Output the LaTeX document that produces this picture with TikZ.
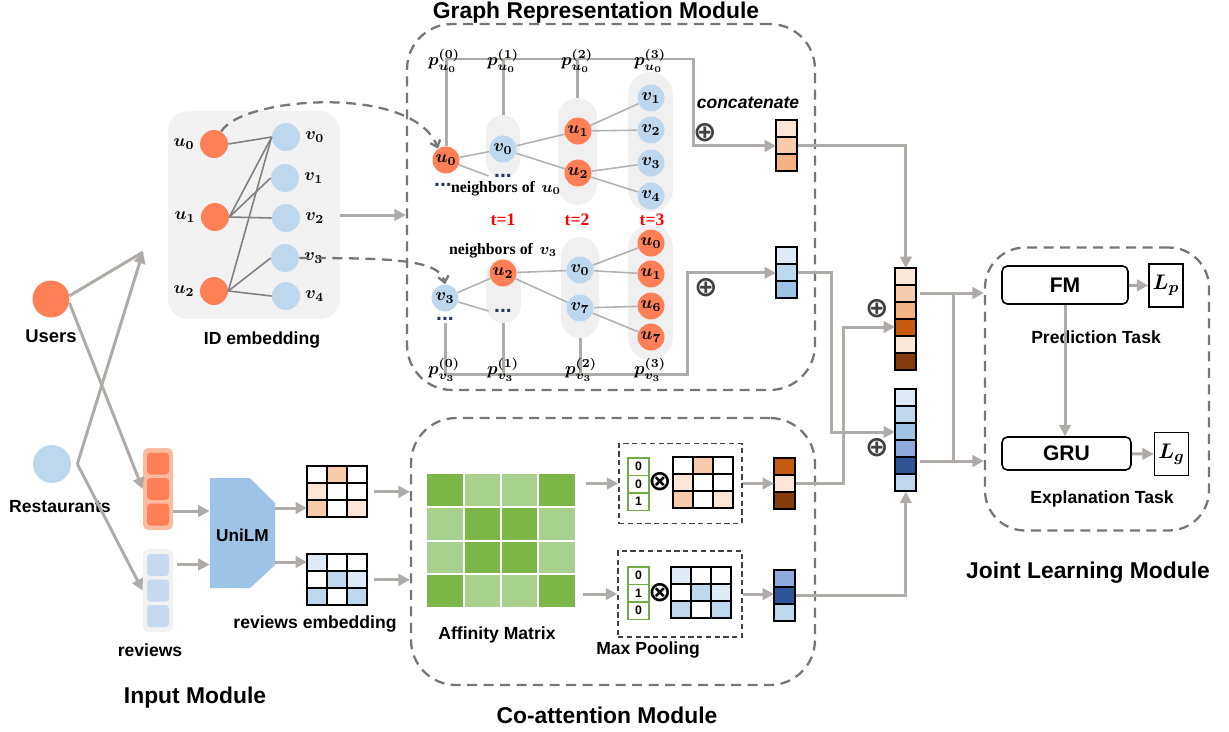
\documentclass[tikz,border=0pt]{standalone}
\usepackage{fontspec}
\usepackage{amsmath}
\setmainfont{Liberation Sans}
\newfontfamily\timesfont{Liberation Serif}
\newfontfamily\symfont{DejaVu Sans}
\usetikzlibrary{arrows.meta,positioning}

% colours
\definecolor{coral}{RGB}{255,128,86}
\definecolor{lblue}{RGB}{189,215,238}
\definecolor{pillgray}{RGB}{240,240,240}
\definecolor{idgray}{RGB}{242,242,242}
\definecolor{arrgray}{RGB}{175,171,171}
\definecolor{edgegray}{RGB}{178,178,178}
\definecolor{iedgegray}{RGB}{128,128,128}
\definecolor{dashgray}{RGB}{118,118,118}
\definecolor{navy}{RGB}{31,56,100}
\definecolor{oplgray}{RGB}{64,64,64}
\definecolor{orevbg}{RGB}{251,188,162}
\definecolor{brevin}{RGB}{197,218,240}
\definecolor{unilmblue}{RGB}{157,195,230}
\definecolor{oA}{RGB}{251,229,214}
\definecolor{oB}{RGB}{248,203,173}
\definecolor{oC}{RGB}{244,177,131}
\definecolor{oD}{RGB}{197,90,17}
\definecolor{oE}{RGB}{132,60,12}
\definecolor{bA}{RGB}{222,235,247}
\definecolor{bB}{RGB}{189,215,238}
\definecolor{bC}{RGB}{157,195,230}
\definecolor{bD}{RGB}{143,170,220}
\definecolor{bE}{RGB}{47,85,151}
\definecolor{gD}{RGB}{122,182,72}
\definecolor{gL}{RGB}{169,209,142}
\definecolor{poolgreen}{RGB}{112,173,71}

\tikzset{
  lab/.style={font=\fontsize{10}{12}\selectfont\bfseries, inner sep=1pt},
  title/.style={font=\fontsize{13}{15}\selectfont\bfseries, inner sep=1pt},
  unode/.style={circle, fill=coral, minimum size=0.54cm, inner sep=0pt, font=\boldmath},
  vnode/.style={unode, fill=lblue},
  inode/.style={circle, fill=#1, minimum size=0.56cm, inner sep=0pt},
  mlab/.style={font=\boldmath, inner sep=1pt},
  pillbox/.style={fill=pillgray, rounded corners=#1, inner sep=0pt},
  navdots/.style={font=\fontsize{12}{12}\selectfont\bfseries, text=navy, inner sep=1pt},
  gedge/.style={draw=edgegray, line width=0.9pt},
  iedge/.style={draw=iedgegray, line width=0.9pt},
  stem/.style={draw=arrgray, line width=1.7pt},
  conn/.style={stem, -{Triangle[length=6.5pt,width=6.5pt]}},
  modbox/.style={draw=dashgray, line width=1.3pt, dash pattern=on 0.2cm off 0.13cm, rounded corners=0.9cm, inner sep=0pt},
  curvarr/.style={draw=dashgray, line width=1.3pt, dash pattern=on 0.2cm off 0.13cm, -{Straight Barb[length=3.5pt,width=6pt]}},
  mpbox/.style={draw=oplgray, line width=0.9pt, dash pattern=on 3pt off 2pt, inner sep=0pt},
  poolcell/.style={draw=poolgreen, fill=white, line width=1.1pt, minimum width=0.42cm, minimum height=0.35cm, inner sep=0pt, outer sep=0pt, font=\fontsize{7}{8}\selectfont\bfseries},
  opl/.style={font=\symfont\bfseries\fontsize{16}{16}\selectfont, text=oplgray, inner sep=0pt},
  plab/.style={font=\boldmath, inner sep=0pt},
  nblab/.style={font=\timesfont\fontsize{9}{11}\selectfont\bfseries\boldmath, inner sep=1pt},
  tlab/.style={font=\timesfont\fontsize{10}{12}\selectfont\bfseries, text=red, inner sep=1pt},
  taskbox/.style={draw=black, line width=0.9pt, rounded corners=3pt, inner sep=0pt, font=\fontsize{12}{14}\selectfont\bfseries},
  lossbox/.style={draw=black, line width=0.8pt, inner sep=0pt, minimum width=0.68cm, minimum height=0.86cm, font=\boldmath\fontsize{13}{15}\selectfont},
}

% a column of coloured cells: name, top-left corner, number of cells, colours
\newcommand{\cellcol}[4]{%
  \node[inner sep=0pt, minimum width=0.42cm, minimum height=#3*0.34cm, anchor=north west] (#1) at (#2) {};
  \foreach \col [count=\ii from 0] in {#4}
    \filldraw[fill=\col, draw=black, line width=1.1pt] ([yshift=-\ii*0.34cm]#1.north west) rectangle ++(0.42cm,-0.34cm);
}
% a 3x3 grid of coloured cells: name, top-left corner, rows of colours
\newcommand{\cellgrid}[3]{%
  \node[inner sep=0pt, minimum width=1.2cm, minimum height=1.02cm, anchor=north west] (#1) at (#2) {};
  \foreach \rw [count=\ri from 0] in {#3}
    \foreach \col [count=\ki from 0] in \rw
      \filldraw[fill=\col, draw=black, line width=1.1pt] ([xshift=\ki*0.4cm, yshift=-\ri*0.34cm]#1.north west) rectangle ++(0.4cm,-0.34cm);
}

\begin{document}
\begin{tikzpicture}[x=0.02cm, y=-0.02cm]
\useasboundingbox (0,0) rectangle (1229,731);

% Module frames and titles
\node[modbox, minimum width=8.16cm, minimum height=7.32cm] (grm) at (611,207) {};
\node[modbox, minimum width=8.08cm, minimum height=5.34cm] (coat) at (613,551.5) {};
\node[modbox, rounded corners=0.8cm, minimum width=4.48cm, minimum height=5.66cm] (joint) at (1097,389) {};
\node[title] (grmt) at (596,13) {Graph Representation Module};
\node[title] (coatt) at (607,715) {Co-attention Module};
\node[title] (jointt) at (1088,573) {Joint Learning Module};
\node[title] (inpt) at (195,698) {Input Module};

% Users and restaurants
\node[circle, fill=coral, minimum size=0.74cm] (users) at (51,299) {};
\node[lab, font=\fontsize{10.5}{12}\selectfont\bfseries] (userst) at (51,336) {Users};
\node[circle, fill=lblue, minimum size=0.76cm] (rest) at (52,464) {};
\node[lab] (restt) at (60,507) {Restaurants};

% Reviews
\node[fill=orevbg, rounded corners=3pt, minimum width=0.6cm, minimum height=1.64cm] (orev) at (158,489) {};
\foreach \d in {0.51,0,-0.51}
  \fill[coral, rounded corners=2pt] ([yshift=\d cm]orev.center) ++(-0.22cm,-0.22cm) rectangle ++(0.44cm,0.44cm);
\node[fill=idgray, rounded corners=3pt, minimum width=0.6cm, minimum height=1.66cm] (brev) at (158,590.5) {};
\foreach \d in {0.51,0,-0.51}
  \fill[brevin, rounded corners=2pt] ([yshift=\d cm]brev.center) ++(-0.22cm,-0.22cm) rectangle ++(0.44cm,0.44cm);
\node[lab] (revt) at (150,650) {reviews};

\coordinate (idin) at (143,252);
\draw[stem] (users.10) -- (idin);
\draw[conn] ([xshift=0.12cm]rest.east) -- (idin);
\draw[conn] (users.-12) -- (orev.west);
\draw[conn] ([xshift=0.12cm]rest.east) -- (brev.west);

% UniLM
\fill[unilmblue] (210,478) -- (250,478) -- (275,503) -- (275,565) -- (250,588) -- (210,588) -- cycle;
\node[lab, font=\fontsize{9.8}{12}\selectfont\bfseries, minimum width=1.3cm, minimum height=2.2cm] (unilm) at (242.5,535) {UniLM};
\draw[conn] ([yshift=-0.44cm]orev.east) -- ([yshift=-0.44cm]orev.east -| unilm.west);
\draw[conn] ([yshift=0.52cm, xshift=0.08cm]brev.east) -- ([yshift=0.52cm]brev.east -| unilm.west);

% Reviews embedding
\cellgrid{omat}{307,466}{{white,oB,white},{oA,white,white},{oB,white,oA}}
\cellgrid{bmat}{307,554}{{bA,white,white},{white,bB,bA},{bB,white,bB}}
\node[lab] (rembt) at (315,624) {reviews embedding};
\draw[conn] ([yshift=0.54cm]unilm.east) -- ([yshift=0.54cm]unilm.east -| omat.west);
\draw[conn] ([yshift=-0.54cm]unilm.east) -- ([yshift=-0.54cm]unilm.east -| bmat.west);
\draw[conn] ([xshift=0.12cm]omat.east) -- (omat.east -| coat.west);
\draw[conn] ([xshift=0.12cm]bmat.east) -- (bmat.east -| coat.west);

% ID embedding
\node[fill=idgray, rounded corners=0.4cm, minimum width=3.44cm, minimum height=4.16cm] (idbox) at (254,215) {};
\node[lab] (idt) at (262,340) {ID embedding};
\node[inode=coral] (iu0) at (214,144) {};
\node[inode=coral] (iu1) at (215,217) {};
\node[inode=coral] (iu2) at (214,291) {};
\node[inode=lblue] (iv0) at (286,137) {};
\node[inode=lblue] (iv1) at (285,178) {};
\node[inode=lblue] (iv2) at (286,218) {};
\node[inode=lblue] (iv3) at (285,258) {};
\node[inode=lblue] (iv4) at (286,296) {};
\node[mlab, left=0.06cm of iu0] (iu0l) {$u_0$};
\node[mlab, left=0.06cm of iu1] (iu1l) {$u_1$};
\node[mlab, left=0.06cm of iu2] (iu2l) {$u_2$};
\node[mlab, right=0.06cm of iv0] (iv0l) {$v_0$};
\node[mlab, right=0.06cm of iv1] (iv1l) {$v_1$};
\node[mlab, right=0.06cm of iv2] (iv2l) {$v_2$};
\node[mlab, right=0.06cm of iv3] (iv3l) {$v_3$};
\node[mlab, right=0.06cm of iv4] (iv4l) {$v_4$};
\draw[iedge] (iu0.east) -- (iv0.west);
\draw[iedge] (iu1.east) -- (iv0.west);
\draw[iedge] (iu1.east) -- (iv1.west);
\draw[iedge] (iu1.east) -- (iv2.west);
\draw[iedge] (iu2.east) -- (iv0.west);
\draw[iedge] (iu2.east) -- (iv3.west);
\draw[iedge] (iu2.east) -- (iv4.west);
\draw[conn] (idbox.east) -- (idbox.east -| grm.west);

% Graph: neighbours of u0
\node[pillbox=0.34cm, minimum width=0.68cm, minimum height=1.26cm] (pu1) at (503,146.5) {};
\node[pillbox=0.39cm, minimum width=0.78cm, minimum height=2.14cm] (pu2) at (577.5,151.5) {};
\node[pillbox=0.45cm, minimum width=0.9cm, minimum height=2.8cm] (pu3) at (650.5,142) {};
\node[unode] (gu0) at (446,160) {$u_0$};
\node[vnode] (gv0) at (503,149) {$v_0$};
\node[navdots] (dotsa) at (503,176) {...};
\node[navdots] (dotsb) at (443,185) {...};
\node[unode] (gu1) at (578,131) {$u_1$};
\node[unode] (gu2) at (578,173) {$u_2$};
\node[vnode] (gv1) at (651,98) {$v_1$};
\node[vnode] (gv2) at (651,130) {$v_2$};
\node[vnode] (gv3) at (651,163) {$v_3$};
\node[vnode] (gv4) at (651,196) {$v_4$};
\node[nblab] (nbu) at (506,189) {neighbors of \,$u_0$};
\draw[gedge] (gu0) -- (gv0);
\draw[gedge] (gu0) -- ([xshift=-2pt]dotsa.west);
\draw[gedge] (gv0) -- (gu1);
\draw[gedge] (gv0) -- (gu2);
\draw[gedge] (gu1) -- (gv1);
\draw[gedge] (gu1) -- (gv2);
\draw[gedge] (gu2) -- (gv3);
\draw[gedge] (gu2) -- (gv4);

% Layer outputs of u0
\coordinate (ptop) at (693,59);
\cellcol{sva}{776,120}{3}{oA,oB,oC}
\draw[conn] (gu0.north) |- (ptop) |- (sva.west);
\draw[stem] (pu1.north) -- (pu1.north |- ptop);
\draw[stem] (pu2.north) -- (pu2.north |- ptop);
\node[plab] (pu0a) at (444,61) {$p_{u_0}^{(0)}$};
\node[plab] (pu0b) at (503,61) {$p_{u_0}^{(1)}$};
\node[plab] (pu0c) at (577,61) {$p_{u_0}^{(2)}$};
\node[plab] (pu0d) at (650,61) {$p_{u_0}^{(3)}$};
\node[opl] (opla) at (705,133) {⊕};
\node[lab, font=\fontsize{10}{12}\selectfont\bfseries\itshape] (cct) at (748,103) {concatenate};

% Hops
\node[tlab] (t1) at (503,220) {t=1};
\node[tlab] (t2) at (577,220) {t=2};
\node[tlab] (t3) at (652,220) {t=3};

% Graph: neighbours of v3
\node[pillbox=0.35cm, minimum width=0.7cm, minimum height=1.3cm] (pv1) at (503.5,290.5) {};
\node[pillbox=0.38cm, minimum width=0.76cm, minimum height=2.02cm] (pv2) at (580,287.5) {};
\node[pillbox=0.45cm, minimum width=0.9cm, minimum height=2.7cm] (pv3) at (650.5,292.5) {};
\node[vnode] (hv3) at (445,298) {$v_3$};
\node[navdots] (dotsc) at (445,319) {...};
\node[unode] (hu2) at (503,273) {$u_2$};
\node[navdots] (dotsd) at (503,311) {...};
\node[vnode] (hv0) at (580,270) {$v_0$};
\node[vnode] (hv7) at (580,308) {$v_7$};
\node[unode] (hu0) at (651,243) {$u_0$};
\node[unode] (hu1) at (651,274) {$u_1$};
\node[unode] (hu6) at (651,306) {$u_6$};
\node[unode] (hu7) at (651,337) {$u_7$};
\node[nblab] (nbv) at (503,251) {neighbors of \,$v_3$};
\draw[gedge] (hv3) -- (hu2);
\draw[gedge] (hv3) -- ([xshift=-2pt]dotsd.west);
\draw[gedge] (hu2) -- (hv0);
\draw[gedge] (hu2) -- (hv7);
\draw[gedge] (hv0) -- (hu0);
\draw[gedge] (hv0) -- (hu1);
\draw[gedge] (hv7) -- (hu6);
\draw[gedge] (hv7) -- (hu7);

% Layer outputs of v3
\coordinate (pbot) at (687,374);
\cellcol{svb}{776,247}{3}{bA,bB,bC}
\draw[conn] (dotsc.south) |- (pbot) |- (svb.west);
\draw[stem] (pv1.south) -- (pv1.south |- pbot);
\draw[stem] (pv2.south) -- (pv2.south |- pbot);
\node[plab] (pv3a) at (444,370) {$p_{v_3}^{(0)}$};
\node[plab] (pv3b) at (503,370) {$p_{v_3}^{(1)}$};
\node[plab] (pv3c) at (581,370) {$p_{v_3}^{(2)}$};
\node[plab] (pv3d) at (650,370) {$p_{v_3}^{(3)}$};
\node[opl] (oplb) at (706,288) {⊕};

% Lookup of the ID embeddings
\draw[curvarr] (iu0.60) .. controls +(20,-35) and +(-25,-65) .. (gu0.125);
\draw[curvarr] (iv3.east) .. controls +(90,0) and +(-5,-25) .. (hv3.north);

% Affinity matrix
\node[inner sep=0pt, minimum width=3cm, minimum height=2.7cm, anchor=north west] (aff) at (426,473) {};
\foreach \rw [count=\ri from 0] in {{gD,gL,gL,gD},{gL,gD,gD,gL},{gL,gD,gD,gL},{gD,gL,gL,gD}}
  \foreach \col [count=\ki from 0] in \rw
    \fill[\col] ([xshift=\ki*0.75cm+0.02cm, yshift=-\ri*0.675cm-0.02cm]aff.north west) rectangle ++(0.71cm,-0.635cm);
\node[lab] (afft) at (497,635) {Affinity Matrix};

% Max pooling
\node[mpbox, minimum width=2.46cm, minimum height=1.6cm] (mpa) at (680.5,483.5) {};
\node[mpbox, minimum width=2.48cm, minimum height=1.72cm] (mpb) at (680,594) {};
\node[poolcell, anchor=north west] (qa0) at (628,458) {0};
\node[poolcell, below=0pt of qa0] (qa1) {0};
\node[poolcell, below=0pt of qa1] (qa2) {1};
\node[poolcell, anchor=north west] (qb0) at (628,567) {0};
\node[poolcell, below=0pt of qb0] (qb1) {1};
\node[poolcell, below=0pt of qb1] (qb2) {0};
\node[opl, text=black] (otma) at (660,482) {⊗};
\node[opl, text=black] (otmb) at (660,593) {⊗};
\cellgrid{pma}{673,457}{{white,oB,white},{oA,white,white},{oB,white,oA}}
\cellgrid{pmb}{671,567}{{bA,white,white},{white,bB,bA},{bB,white,bB}}
\node[lab] (mpt) at (648,650) {Max Pooling};
\draw[conn] ([xshift=0.18cm]aff.east |- mpa.west) -- (mpa.west);
\draw[conn] ([xshift=0.12cm]aff.east |- mpb.west) -- (mpb.west);
\cellcol{svc}{774,458}{3}{oD,oA,oE}
\cellcol{svd}{774,570}{3}{bD,bE,bB}
\draw[conn] (mpa.east) -- (mpa.east -| svc.west);
\draw[conn] (mpb.east) -- (mpb.east -| svd.west);

% Concatenated vectors
\cellcol{bigo}{895,268}{6}{oA,oB,oC,oD,oA,oE}
\cellcol{bigb}{895,389}{6}{bA,bB,bC,bD,bE,bB}
\node[opl] (oplc) at (877,309) {⊕};
\node[opl] (opld) at (877,448) {⊕};
\coordinate (jb) at (831,432);
\coordinate (jc) at (843,327);
\draw[conn] (sva.east) -| (bigo.north);
\draw[conn] (svb.east) -| (jb) -- (jb -| bigb.west);
\draw[conn] (svc.east) -| (jc) -- (jc -| bigo.west);
\draw[conn] (svd.east) -| (bigb.south);

% Joint learning
\coordinate (jd) at (953,293);
\coordinate (je) at (953,461);
\draw[conn] ([xshift=0.06cm]bigo.east |- jd) -- (jd -| joint.west);
\draw[conn] ([xshift=0.06cm]bigb.east |- je) -- (je -| joint.west);
\draw[stem] (jd) -- (je);
\node[taskbox, minimum width=2.52cm, minimum height=0.76cm] (fm) at (1065,285) {FM};
\node[lossbox] (lp) at (1166,285.5) {$L_p$};
\node[lab] (predt) at (1096,337) {Prediction Task};
\node[taskbox, minimum width=2.58cm, minimum height=0.66cm] (gru) at (1066.5,453.5) {GRU};
\node[lossbox] (lg) at (1171.5,454) {$L_g$};
\node[lab] (explt) at (1102,499) {Explanation Task};
\draw[conn] (fm) -- (lp);
\draw[conn] (gru) -- (lg);
\draw[conn] (fm.south) -- (fm.south |- gru.north);
\end{tikzpicture}
\end{document}
